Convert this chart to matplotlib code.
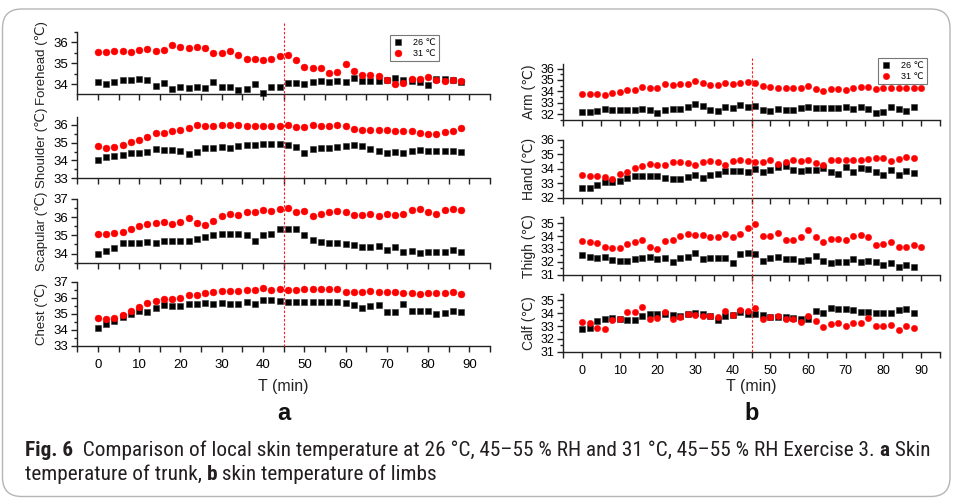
import numpy as np
import matplotlib
matplotlib.use("Agg")
import matplotlib.pyplot as plt
from matplotlib.ticker import MultipleLocator, FixedLocator
from matplotlib.transforms import blended_transform_factory
from matplotlib.patches import FancyBboxPatch
from matplotlib.lines import Line2D
from matplotlib import font_manager

# ---------------- data ----------------
time_min = np.arange(0, 90, 2)        # 0..88 (45 points)
time_min_ext = np.arange(0, 92, 2)    # 0..90 (46 points)

forehead_26 = [34.14, 34.03, 34.11, 34.22, 34.20, 34.27, 34.20, 33.95, 34.06, 33.80, 33.89, 33.84, 33.86,
               33.84, 34.11, 33.89, 33.90, 33.75, 33.80, 34.00, 33.60, 33.89, 33.90, 34.05, 34.08,
               34.00, 34.12, 34.16, 34.12, 34.16, 34.11, 34.33, 34.17, 34.17, 34.17, 34.20, 34.33,
               34.20, 34.16, 34.11, 33.97, 34.27, 34.28, 34.23, 34.11]
forehead_31 = [35.53, 35.52, 35.60, 35.57, 35.55, 35.63, 35.66, 35.57, 35.63, 35.88, 35.78, 35.74, 35.77,
               35.74, 35.48, 35.50, 35.58, 35.42, 35.23, 35.23, 35.18, 35.20, 35.34, 35.40, 35.14,
               34.84, 34.77, 34.77, 34.56, 34.58, 34.95, 34.62, 34.45, 34.45, 34.38, 34.22, 34.02,
               34.08, 34.27, 34.28, 34.36, 34.23, 34.17, 34.20, 34.16]
shoulder_26 = [34.05, 34.18, 34.24, 34.31, 34.40, 34.42, 34.47, 34.62, 34.58, 34.60, 34.51, 34.36, 34.49,
               34.67, 34.67, 34.75, 34.71, 34.80, 34.85, 34.84, 34.93, 34.93, 34.93, 34.89,
               34.75, 34.42, 34.62, 34.71, 34.67, 34.76, 34.80, 34.87, 34.80, 34.62, 34.53, 34.42,
               34.49, 34.44, 34.53, 34.58, 34.53, 34.53, 34.51, 34.51, 34.47]
shoulder_31 = [34.82, 34.69, 34.76, 34.89, 35.05, 35.13, 35.33, 35.51, 35.56, 35.67, 35.73, 35.84, 35.96,
               35.93, 35.93, 35.96, 35.96, 35.96, 35.93, 35.95, 35.95, 35.95, 35.93, 35.96,
               35.87, 35.87, 35.96, 35.91, 35.93, 35.96, 35.95, 35.78, 35.69, 35.69, 35.73, 35.73,
               35.64, 35.64, 35.64, 35.55, 35.49, 35.49, 35.58, 35.64, 35.82]
scapular_26 = [33.96, 34.13, 34.33, 34.59, 34.59, 34.59, 34.61, 34.57, 34.67, 34.69, 34.69, 34.69, 34.80,
               34.89, 35.04, 35.07, 35.07, 35.09, 35.02, 34.67, 35.00, 35.09, 35.37, 35.37, 35.37,
               35.00, 34.72, 34.65, 34.59, 34.57, 34.52, 34.46, 34.37, 34.37, 34.44, 34.20, 34.37,
               34.09, 34.17, 34.06, 34.09, 34.09, 34.07, 34.19, 34.07]
scapular_31 = [35.06, 35.07, 35.15, 35.17, 35.35, 35.52, 35.65, 35.67, 35.76, 35.65, 35.76, 35.94, 35.70,
               35.57, 35.80, 36.07, 36.17, 36.13, 36.26, 36.30, 36.37, 36.33, 36.43, 36.48, 36.28,
               36.35, 36.09, 36.20, 36.30, 36.35, 36.26, 36.13, 36.11, 36.20, 36.04, 36.19, 36.13,
               36.20, 36.39, 36.44, 36.28, 36.19, 36.37, 36.44, 36.37]
chest_26 = [34.10, 34.36, 34.57, 34.79, 35.00, 35.17, 35.10, 35.38, 35.55, 35.51, 35.51, 35.60, 35.64,
            35.68, 35.64, 35.70, 35.62, 35.64, 35.74, 35.64, 35.87, 35.89, 35.83, 35.77, 35.77,
            35.75, 35.74, 35.74, 35.77, 35.77, 35.68, 35.53, 35.38, 35.51, 35.57, 35.10, 35.10,
            35.62, 35.15, 35.15, 35.17, 35.02, 35.08, 35.17, 35.10]
chest_31 = [34.72, 34.70, 34.74, 34.95, 35.19, 35.43, 35.66, 35.79, 35.91, 35.94, 36.00, 36.19, 36.17,
            36.30, 36.40, 36.43, 36.42, 36.45, 36.52, 36.52, 36.60, 36.50, 36.58, 36.52, 36.52,
            36.54, 36.54, 36.58, 36.58, 36.58, 36.38, 36.38, 36.40, 36.42, 36.40, 36.40, 36.38,
            36.28, 36.30, 36.23, 36.32, 36.32, 36.34, 36.40, 36.26]

arm_26 = [32.20, 32.23, 32.29, 32.46, 32.38, 32.35, 32.35, 32.38, 32.43, 32.35, 32.14,
          32.38, 32.49, 32.49, 32.67, 32.87, 32.72, 32.38, 32.29, 32.67, 32.58,
          32.78, 32.67, 32.72, 32.38, 32.29, 32.46, 32.38, 32.38, 32.52, 32.67,
          32.58, 32.58, 32.55, 32.52, 32.64, 32.49, 32.67, 32.43, 32.14, 32.23, 32.61, 32.49, 32.32, 32.61]
arm_31 = [33.80, 33.80, 33.74, 33.71, 33.83, 33.91, 34.09, 34.12, 34.35, 34.29, 34.32,
          34.64, 34.55, 34.61, 34.67, 34.90, 34.75, 34.52, 34.55, 34.70, 34.64,
          34.75, 34.81, 34.75, 34.46, 34.43, 34.32, 34.26, 34.29, 34.26, 34.46,
          34.17, 34.03, 34.20, 34.20, 34.14, 34.32, 34.35, 34.35, 34.23, 34.26, 34.29, 34.29, 34.29,
          34.32, 34.32]
hand_26 = [32.67, 32.70, 32.88, 33.07, 33.09, 33.16, 33.40, 33.51, 33.49, 33.47, 33.51,
           33.40, 33.30, 33.30, 33.42, 33.58, 33.40, 33.56, 33.67, 33.86, 33.88,
           33.88, 33.81, 33.98, 33.77, 33.91, 34.14, 34.19, 33.93, 33.88, 33.93,
           33.93, 34.05, 33.81, 33.65, 34.16, 33.79, 34.07, 34.00, 33.77, 33.58, 33.91, 33.56, 33.84, 33.70]
hand_31 = [33.58, 33.51, 33.53, 33.44, 33.28, 33.65, 33.77, 34.05, 34.23, 34.35, 34.26,
           34.26, 34.47, 34.47, 34.40, 34.26, 34.47, 34.51, 34.49, 34.26, 34.53,
           34.58, 34.53, 34.49, 34.47, 34.60, 34.35, 34.47, 34.58, 34.53, 34.60,
           34.42, 34.30, 34.63, 34.63, 34.60, 34.63, 34.58, 34.70, 34.74, 34.72, 34.51, 34.70, 34.81, 34.72]
thigh_26 = [32.49, 32.34, 32.31, 32.34, 32.16, 32.08, 32.03, 32.18, 32.31, 32.34, 32.18,
            32.29, 32.00, 32.29, 32.34, 32.70, 32.21, 32.29, 32.29, 32.29, 31.90,
            32.57, 32.68, 32.62, 32.10, 32.29, 32.39, 32.21, 32.21, 32.08, 32.16,
            32.42, 32.08, 31.92, 31.97, 31.95, 32.18, 32.00, 32.05, 31.95, 31.77, 31.90, 31.57, 31.73, 31.60]
thigh_31 = [33.64, 33.53, 33.43, 33.15, 33.08, 33.10, 33.38, 33.53, 33.71, 33.15, 33.00,
            33.64, 33.69, 34.00, 34.18, 34.05, 34.08, 33.92, 33.95, 34.13, 33.90,
            34.16, 34.60, 34.92, 34.03, 34.03, 34.26, 33.69, 33.69, 33.90, 34.47,
            33.95, 33.53, 33.74, 33.77, 33.71, 34.03, 34.05, 33.90, 33.33, 33.41, 33.56, 33.12, 33.12,
            33.33, 33.12]
calf_26 = [32.78, 32.83, 33.41, 33.54, 33.65, 33.54, 33.49, 33.49, 33.82, 33.97, 33.97,
           33.92, 33.87, 33.80, 33.97, 34.03, 33.92, 33.82, 33.46, 33.77, 33.85,
           34.08, 33.97, 33.92, 33.90, 33.72, 33.67, 33.72, 33.62, 33.52, 33.54,
           34.18, 34.03, 34.39, 34.34, 34.34, 34.23, 34.08, 34.10, 34.05, 34.03, 34.03, 34.23, 34.31, 34.03]
calf_31 = [33.34, 33.26, 32.85, 32.78, 33.49, 33.54, 34.13, 34.13, 34.46, 33.57, 33.59,
           34.13, 33.57, 33.72, 33.92, 33.85, 33.75, 33.77, 33.67, 34.18, 33.85,
           34.28, 34.20, 34.43, 33.57, 33.67, 33.77, 33.54, 33.54, 33.34, 33.77,
           33.41, 32.90, 33.16, 33.24, 32.99, 33.21, 33.21, 33.62, 33.04, 33.01, 33.06, 32.70, 33.01, 32.83]

x_tick_labels = ["0", "10", "20", "30", "40", "50", "60", "70", "80", "90"]
legend_labels = ["26 \u2103", "31 \u2103"]
exercise_end = 45

trunk_panels = [
    ("Forehead (\u2103)", forehead_26, forehead_31, (33.55, 36.5), [34, 35, 36]),
    ("Shoulder (\u2103)", shoulder_26, shoulder_31, (33.0, 36.45), [33, 34, 35, 36]),
    ("Scapular (\u2103)", scapular_26, scapular_31, (33.5, 37.0), [34, 35, 36, 37]),
    ("Chest (\u2103)", chest_26, chest_31, (33.0, 37.0), [33, 34, 35, 36, 37]),
]
limb_panels = [
    ("Arm (\u2103)", arm_26, arm_31, (31.5, 36.4), [32, 33, 34, 35, 36]),
    ("Hand (\u2103)", hand_26, hand_31, (32.0, 36.0), [32, 33, 34, 35, 36]),
    ("Thigh (\u2103)", thigh_26, thigh_31, (31.0, 35.5), [31, 32, 33, 34, 35]),
    ("Calf (\u2103)", calf_26, calf_31, (31.0, 35.5), [31, 32, 33, 34, 35]),
]

# ---------------- figure ----------------
W, H = 958, 499
fig = plt.figure(figsize=(W / 100, H / 100), dpi=100)
FAM = ["Liberation Sans", "DejaVu Sans"]


def px_rect(x0, y_top, x1, y_bot):
    return [x0 / W, 1 - y_bot / H, (x1 - x0) / W, (y_bot - y_top) / H]


left_rows = [(31.7, 94.0), (116.7, 178.3), (199.0, 262.7), (282.0, 345.7)]
right_rows = [(64.0, 120.0), (140.0, 197.7), (216.7, 274.7), (294.0, 351.7)]


def make_column(panels, rows, x0, x1, tick_fs, label_fs, ms_sq, ms_ci):
    axes = []
    for i, ((lab, s26, s31, ylim, yt), (yt0, yb0)) in enumerate(zip(panels, rows)):
        ax = fig.add_axes(px_rect(x0, yt0, x1, yb0))
        t26 = time_min_ext[:len(s26)]
        t31 = time_min_ext[:len(s31)]
        ax.plot(t26, s26, ls="none", marker="s", ms=ms_sq, color="black", mec="#333333",
                mew=0.4, label=legend_labels[0], clip_on=False, zorder=3)
        ax.plot(t31, s31, ls="none", marker="o", ms=ms_ci, color="#ff0000", mec="#ff0000",
                mew=0.3, label=legend_labels[1], clip_on=False, zorder=4)
        ax.set_xlim(-5, 95)
        ax.set_ylim(*ylim)
        for sp in ("top", "right"):
            ax.spines[sp].set_visible(False)
        for sp in ("left", "bottom"):
            ax.spines[sp].set_linewidth(1.0)
            ax.spines[sp].set_color("#222222")
        ax.xaxis.set_major_locator(FixedLocator(np.arange(0, 91, 10)))
        ax.xaxis.set_minor_locator(FixedLocator(np.arange(-5, 96, 10)))
        ax.yaxis.set_major_locator(FixedLocator(yt))
        ax.yaxis.set_minor_locator(MultipleLocator(0.5))
        ax.tick_params(which="major", direction="out", length=4.5, width=1.0, color="#222222",
                       labelsize=tick_fs, pad=2)
        ax.tick_params(which="minor", direction="out", length=4.5, width=1.0, color="#222222")
        ax.tick_params(axis="y", which="minor", length=2.5)
        ax.set_yticklabels([str(v) for v in yt], fontfamily=FAM)
        if i == len(panels) - 1:
            ax.set_xticklabels(x_tick_labels, fontfamily=FAM)
            ax.tick_params(axis="x", pad=5)
        else:
            ax.set_xticklabels([])
        ax.set_ylabel(lab, fontsize=label_fs, fontfamily=FAM, color="#222222")
        ax.yaxis.set_label_coords(-0.072, 0.5)
        ax.set_facecolor("none")
        axes.append(ax)
    return axes


left_axes = make_column(trunk_panels, left_rows, 77.3, 490.0, 9.5, 9.5, 4.6, 5.0)
right_axes = make_column(limb_panels, right_rows, 563.3, 940.0, 9.0, 10.0, 4.0, 4.6)

# legends
for ax, anchor in ((left_axes[0], (0.758, 0.95)), (right_axes[0], (0.835, 1.107))):
    lg = ax.legend(loc="upper left", bbox_to_anchor=anchor, borderaxespad=0, frameon=True,
                   fancybox=False, fontsize=6.5, handlelength=1.0, handletextpad=1.2,
                   borderpad=0.35, labelspacing=0.2, prop={"family": FAM, "size": 6.5})
    lg.get_frame().set_edgecolor("#555555")
    lg.get_frame().set_linewidth(0.8)

# red dashed vertical line at end of exercise spanning each column
for ax, ytop, ybot in ((left_axes[0], 23, 346), (right_axes[0], 58, 352)):
    tr = blended_transform_factory(ax.transData, fig.transFigure)
    fig.add_artist(Line2D([exercise_end, exercise_end], [1 - ytop / H, 1 - ybot / H],
                          transform=tr, color="#ff2020", lw=0.8, ls=(0, (2.2, 1.6)), zorder=5))

# x labels and panel letters
for cx in ((77.3 + 490.0) / 2, (563.3 + 940.0) / 2):
    fig.text(cx / W, 1 - 386.7 / H, "T (min)", ha="center", va="center", fontsize=11.5,
             family=FAM, color="#222222")
fig.text(283.5 / W, 1 - 414 / H, "a", ha="center", va="center", fontsize=17, fontweight="bold",
         family=FAM, color="#111111")
fig.text(751.6 / W, 1 - 414 / H, "b", ha="center", va="center", fontsize=17, fontweight="bold",
         family=FAM, color="#111111")

# rounded frame
frame = FancyBboxPatch((2.5 / W, 2.5 / H), (950 - 2.5) / W, (490 - 2.5) / H,
                       boxstyle="round,pad=0,rounding_size=0.02", transform=fig.transFigure,
                       fill=False, edgecolor="#b5b5b5", lw=1.0, mutation_aspect=W / H)
fig.add_artist(frame)

# caption with mixed weights
cap_family = None
for cand in ["Liberation Sans Narrow", "DejaVu Sans Condensed", "Roboto Condensed", "Open Sans Condensed",
             "Noto Sans", "Liberation Sans"]:
    try:
        font_manager.findfont(cand, fallback_to_default=False)
        cap_family = cand
        break
    except Exception:
        continue
CAP = [cap_family, "DejaVu Sans"]

line1 = [("Fig. 6", "bold"), ("  Comparison of local skin temperature at 26 \u00b0C, 45\u201355 % RH and 31 \u00b0C, "
                              "45\u201355 % RH Exercise 3. ", "normal"), ("a", "bold"), (" Skin", "normal")]
line2 = [("temperature of trunk, ", "normal"), ("b", "bold"), (" skin temperature of limbs", "normal")]

renderer = fig.canvas.get_renderer()


def draw_rich(segments, x_px, y_px, size):
    x = x_px / W
    arts = []
    for txt, wt in segments:
        t = fig.text(x, 1 - y_px / H, txt, fontsize=size, fontweight=wt, family=CAP,
                     va="baseline", ha="left", color="#231f20")
        bb = t.get_window_extent(renderer)
        x += bb.width / W
        arts.append(t)
    return arts, x * W - x_px


# fit caption line 1 width (~903 px)
size = 12.0
arts, wpx = draw_rich(line1, 25, 456, size)
for a in arts:
    a.remove()
size = size * 903.0 / wpx
draw_rich(line1, 25, 456, size)
draw_rich(line2, 25, 480, size)

fig.savefig("out.png", dpi=100)
